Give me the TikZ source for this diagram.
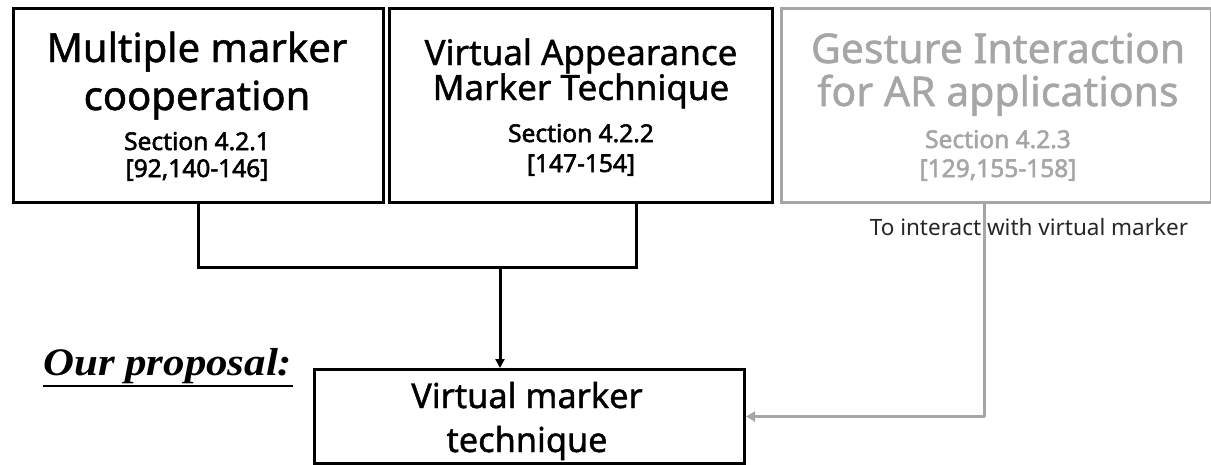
\documentclass[tikz,border=0pt]{standalone}
\usepackage{fontspec}
\setmainfont{Noto Sans}
\newfontfamily\titlefont[FakeBold=1.2]{Noto Sans}
\newfontfamily\secfont[FakeBold=2.2]{Noto Sans}
\newfontfamily\propfont{Liberation Serif}
\usetikzlibrary{arrows.meta,calc}
\definecolor{lgray}{HTML}{A6A6A6}
\tikzset{
  box/.style={draw, line width=3pt, minimum width=#1, minimum height=194pt, inner sep=0pt, anchor=north west},
  pbox/.style={draw, line width=3pt, minimum width=430pt, minimum height=94pt, inner sep=0pt, anchor=north west},
  txt/.style={inner sep=0pt, anchor=base},
  sec/.style={txt, font=\fontsize{24.5}{24.5}\secfont},
  conn/.style={line width=3pt},
  gconn/.style={line width=3pt, lgray},
}
\begin{document}
\begin{tikzpicture}[x=1pt,y=-1pt]
\useasboundingbox (0,0) rectangle (1211,464);
% boxes
\node[box=370pt] (b1) at (12,7) {};
\node[box=383pt] (b2) at (388,7) {};
\node[box=429.5pt, draw=lgray] (b3) at (780,7) {};
\node[pbox] (p) at (313,368) {};
% box 1 text
\node[txt, font=\fontsize{40}{40}\titlefont] (t1a) at (197,62) {Multiple marker};
\node[txt, font=\fontsize{40}{40}\titlefont] (t1b) at (197,110) {cooperation};
\node[sec] (t1c) at (197,150) {Section 4.2.1};
\node[sec] (t1d) at (197,177) {[92,140-146]};
% box 2 text
\node[txt, font=\fontsize{35}{35}\titlefont] (t2a) at (581,65) {Virtual Appearance};
\node[txt, font=\fontsize{35}{35}\titlefont] (t2b) at (581,100) {Marker Technique};
\node[sec] (t2c) at (581,142) {Section 4.2.2};
\node[sec] (t2d) at (581,172) {[147-154]};
% box 3 text
\node[txt, lgray, font=\fontsize{41}{41}\titlefont] (t3a) at (998,63) {Gesture Interaction};
\node[txt, lgray, font=\fontsize{41}{41}\titlefont] (t3b) at (998,106) {for AR applications};
\node[sec, lgray] (t3c) at (998,148) {Section 4.2.3};
\node[sec, lgray] (t3d) at (998,177) {[129,155-158]};
% proposal box text
\node[txt, font=\fontsize{34.3}{34.3}\titlefont] (pa) at (527,408) {Virtual marker};
\node[txt, font=\fontsize{34.3}{34.3}\titlefont] (pb) at (527,452) {technique};
% our proposal
\node[inner sep=0pt, anchor=base west, font=\fontsize{39}{39}\propfont\bfseries\itshape] (op) at (43,375) {\scalebox{1.1}[1]{Our proposal:}};
\draw[line width=2pt] ($(op.base west)+(0,11)$) -- ($(op.base east)+(0,11)$);
% label
\node[txt, black!85, font=\fontsize{22.5}{22.5}\selectfont] (lab) at (1029,235) {To interact with virtual marker};
% connectors
\coordinate (c1) at (b1.south);
\coordinate (c2) at ($(b2.south)+(55.5,0)$);
\coordinate (j) at (500,267);
\draw[conn, line join=miter] (c1) |- (j) -| (c2);
\draw[conn, -{Triangle[length=9pt,width=9pt]}] (j) -- (j |- p.north);
\coordinate (g) at ($(b3.south)+(-11.75,0)$);
\draw[gconn, line join=round, -{Triangle[length=9pt,width=10pt]}] (g) |- (p.east);
\end{tikzpicture}
\end{document}
